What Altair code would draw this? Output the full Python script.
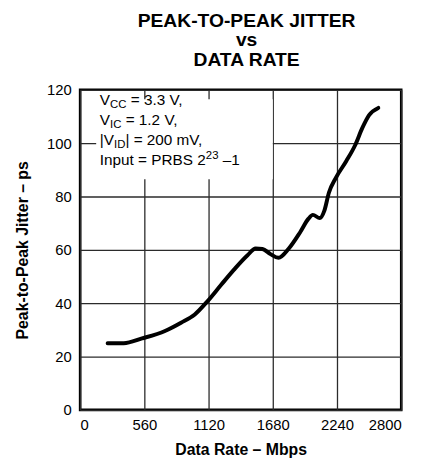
import altair as alt
import pandas as pd

# ---- data ----
rate_mbps = [240, 380, 540, 740, 880, 1000, 1110, 1230, 1340, 1460, 1530, 1590,
             1660, 1730, 1820, 1920, 1990, 2030, 2090, 2130, 2170, 2230, 2320,
             2400, 2460, 2520, 2600]
jitter_ps = [25.0, 25.0, 26.8, 29.6, 32.7, 35.8, 40.7, 46.9, 52.5, 58.0, 60.5, 60.3,
             58.4, 57.0, 60.5, 66.7, 71.6, 73.1, 71.9, 74.7, 81.5, 87.0, 93.2,
             99.4, 105.6, 110.5, 113.2]
x_ticks = [0, 560, 1120, 1680, 2240, 2800]
y_ticks = [0, 20, 40, 60, 80, 100, 120]
title_lines = ["PEAK-TO-PEAK JITTER", "vs", "DATA RATE"]
x_title = "Data Rate – Mbps"
y_title = "Peak-to-Peak Jitter – ps"
note_lines = [
    [("V", "n"), ("CC", "sub"), (" = 3.3 V,", "n")],
    [("V", "n"), ("IC", "sub"), (" = 1.2 V,", "n")],
    [("|V", "n"), ("ID", "sub"), ("| = 200 mV,", "n")],
    [("Input = PRBS 2", "n"), ("23", "sup"), (" –1", "n")],
]

FONT = "Liberation Sans, Arial, Helvetica, sans-serif"
W, H = 325, 324
XMAX, YMAX = 2800, 120
PX_X = W / XMAX
PX_Y = H / YMAX
MAIN_FS, SCRIPT_FS = 15.5, 11.5

# Arial advance widths (1/1000 em)
AW = {"V": 667, "C": 722, "I": 278, "D": 722, " ": 278, "=": 584, "3": 556,
      ".": 278, ",": 278, "1": 556, "2": 556, "0": 556, "m": 833, "|": 260,
      "n": 556, "p": 556, "u": 556, "t": 278, "P": 667, "R": 722, "B": 667,
      "S": 667, "–": 556}


def text_w(s, fs):
    return sum(AW.get(c, 556) for c in s) * fs / 1000.0


# build annotation table
note_x0 = 172
note_y0 = [114.3, 106.8, 99.4, 91.7]
rows = []
for line, y0 in zip(note_lines, note_y0):
    cur = 0.0
    for seg, kind in line:
        fs = MAIN_FS if kind == "n" else SCRIPT_FS
        lead = len(seg) - len(seg.lstrip(" "))
        cur += text_w(" " * lead, fs)
        body = seg.lstrip(" ")
        dy = {"n": 0.0, "sub": -3.5, "sup": 6.0}[kind]
        rows.append({"x": note_x0 + cur / PX_X, "y": y0 + dy / PX_Y,
                     "text": body, "kind": "n" if kind == "n" else "s"})
        cur += text_w(body, fs)
notes = pd.DataFrame(rows)

df = pd.DataFrame({"rate": rate_mbps, "jitter": jitter_ps})

xs = alt.Scale(domain=[0, XMAX], nice=False, zero=False)
ys = alt.Scale(domain=[0, YMAX], nice=False, zero=False)

x_axis = alt.Axis(values=x_ticks, title=x_title, labelPadding=8, titlePadding=9,
                  format="d")
y_axis = alt.Axis(values=y_ticks, title=y_title, labelPadding=9, titlePadding=16,
                  format="d")

base = alt.Chart(df)

line = base.mark_line(color="black", strokeWidth=4, interpolate="monotone",
                      strokeCap="round").encode(
    x=alt.X("rate:Q", scale=xs, axis=x_axis),
    y=alt.Y("jitter:Q", scale=ys, axis=y_axis),
)

box_df = pd.DataFrame({"x": [140], "x2": [1680], "y": [86.5], "y2": [116.5]})
box = alt.Chart(box_df).mark_rect(fill="white").encode(
    x=alt.X("x:Q", scale=xs), x2="x2:Q",
    y=alt.Y("y:Q", scale=ys), y2="y2:Q",
)

main_txt = alt.Chart(notes).transform_filter(alt.datum.kind == "n").mark_text(
    align="left", baseline="alphabetic", font=FONT, fontSize=MAIN_FS, color="black"
).encode(x=alt.X("x:Q", scale=xs), y=alt.Y("y:Q", scale=ys), text="text:N")

script_txt = alt.Chart(notes).transform_filter(alt.datum.kind == "s").mark_text(
    align="left", baseline="alphabetic", font=FONT, fontSize=SCRIPT_FS, color="black"
).encode(x=alt.X("x:Q", scale=xs), y=alt.Y("y:Q", scale=ys), text="text:N")

chart = alt.layer(box, line, main_txt, script_txt).properties(
    width=W, height=H,
    autosize=alt.AutoSizeParams(type="none"),
    padding={"left": 73, "top": 80, "right": 18, "bottom": 54},
    title=alt.TitleParams(text=title_lines, font=FONT, fontSize=19.5, fontWeight="bold",
                          color="black", anchor="middle", frame="group", dx=6,
                          offset=13, lineHeight=19.5),
).configure_axis(
    labelFont=FONT, labelFontSize=15, labelColor="black",
    titleFont=FONT, titleFontSize=16, titleFontWeight="bold", titleColor="black",
    grid=True, gridColor="#2b2b2b", gridWidth=1.3, gridOpacity=1,
    ticks=False, domain=False,
).configure_view(
    stroke="black", strokeWidth=2.6
)

chart.save("out.html", embed_options={"renderer": "svg", "actions": False})
